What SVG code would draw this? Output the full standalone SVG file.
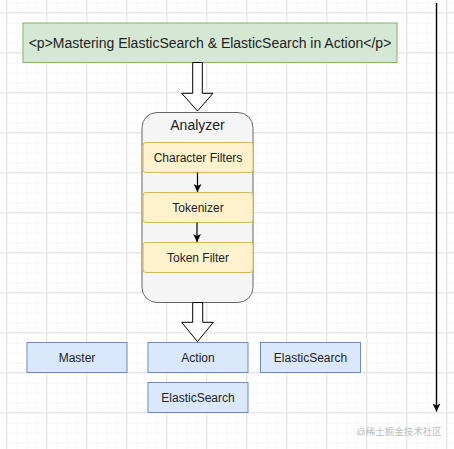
<svg xmlns="http://www.w3.org/2000/svg" width="454" height="449" viewBox="0 0 454 449">
<defs>
<pattern id="minor" x="6.7" y="2.7" width="10" height="10" patternUnits="userSpaceOnUse">
<path d="M0 0.5H10M0.5 0V10" fill="none" stroke="#f7f7f7" stroke-width="1"/>
</pattern>
<pattern id="major" x="6.2" y="12.2" width="40" height="40" patternUnits="userSpaceOnUse">
<path d="M0 0.5H40M0.5 0V40" fill="none" stroke="#e2e2e2" stroke-width="1"/>
</pattern>
<marker id="arr" viewBox="0 0 10 10" refX="10" refY="5" markerWidth="8" markerHeight="8" markerUnits="userSpaceOnUse" orient="auto">
<path d="M0 0L10 5L0 10L2.5 5Z" fill="#000"/>
</marker>
<marker id="arr2" viewBox="0 0 10 10" refX="10" refY="5" markerWidth="8" markerHeight="8" markerUnits="userSpaceOnUse" orient="auto">
<path d="M0 0L10 5L0 10L2.5 5Z" fill="#000"/>
</marker>
</defs>
<style>
text{font-family:"Liberation Sans",Arial,sans-serif;text-anchor:middle;dominant-baseline:central;fill:#222}
.green{fill:#d5e8d4;stroke:#82b366;stroke-width:1}
.blue{fill:#dae8fc;stroke:#6c8ebf;stroke-width:1}
.yellow{fill:#fff2cc;stroke:#d6b656;stroke-width:1}
.gray{fill:#f5f5f5;stroke:#666666;stroke-width:1}
.block{fill:#ffffff;stroke:#000;stroke-width:1}
.t12{font-size:12px}
.title{font-size:14px}
.wm{font-family:"Liberation Sans","Noto Sans CJK SC",sans-serif;font-size:9.5px;fill:#bdbdbd}
</style>
<rect width="454" height="449" fill="#ffffff"/>
<rect width="454" height="449" fill="url(#minor)"/>
<rect width="454" height="449" fill="url(#major)"/>

<g id="title">
<rect class="green" x="23" y="23" width="374" height="39.5"/>
<text class="title" x="210" y="43">&lt;p&gt;Mastering ElasticSearch &amp; ElasticSearch in Action&lt;/p&gt;</text>
</g>

<g id="analyzer">
<rect class="gray" x="142" y="112.5" width="111" height="190" rx="15" ry="15"/>
<text x="197.5" y="125" font-size="14" fill="#333">Analyzer</text>
</g>

<g id="char-filters">
<rect class="yellow" x="143" y="142.5" width="110" height="30" rx="3"/>
<text class="t12" x="198" y="157.5">Character Filters</text>
</g>
<g id="tokenizer">
<rect class="yellow" x="143" y="192.5" width="110" height="30" rx="3"/>
<text class="t12" x="198" y="207.5">Tokenizer</text>
</g>
<g id="token-filter">
<rect class="yellow" x="143" y="242.5" width="110" height="30" rx="3"/>
<text class="t12" x="198" y="257.5">Token Filter</text>
</g>

<g id="master">
<rect class="blue" x="27" y="342.5" width="100" height="30"/>
<text class="t12" x="77" y="357.5">Master</text>
</g>
<g id="action">
<rect class="blue" x="148" y="342.5" width="100" height="30"/>
<text class="t12" x="198" y="357.5">Action</text>
</g>
<g id="elasticsearch-1">
<rect class="blue" x="260.5" y="342.5" width="100" height="30"/>
<text class="t12" x="310.5" y="357.5">ElasticSearch</text>
</g>
<g id="elasticsearch-2">
<rect class="blue" x="148" y="382.5" width="100" height="30"/>
<text class="t12" x="198" y="397.5">ElasticSearch</text>
</g>

<g id="connectors">
<path class="block" d="M192.7 62.5V93.3H181.7L197.5 111L213 93.3H202.3V62.5Z"/>
<path class="block" d="M192.7 302.5V322.3H181.7L197.5 341.7L213.3 322.3H202.7V302.5Z"/>
<line x1="197.5" y1="172.5" x2="197.5" y2="192" stroke="#000" stroke-width="1.2" marker-end="url(#arr)"/>
<line x1="197" y1="222.5" x2="197" y2="242" stroke="#000" stroke-width="1.2" marker-end="url(#arr)"/>
<line x1="436.5" y1="3" x2="436.5" y2="411.5" stroke="#000" stroke-width="1.4" marker-end="url(#arr2)"/>
</g>

<text class="wm" x="399" y="431.5">@稀土掘金技术社区</text>
</svg>
